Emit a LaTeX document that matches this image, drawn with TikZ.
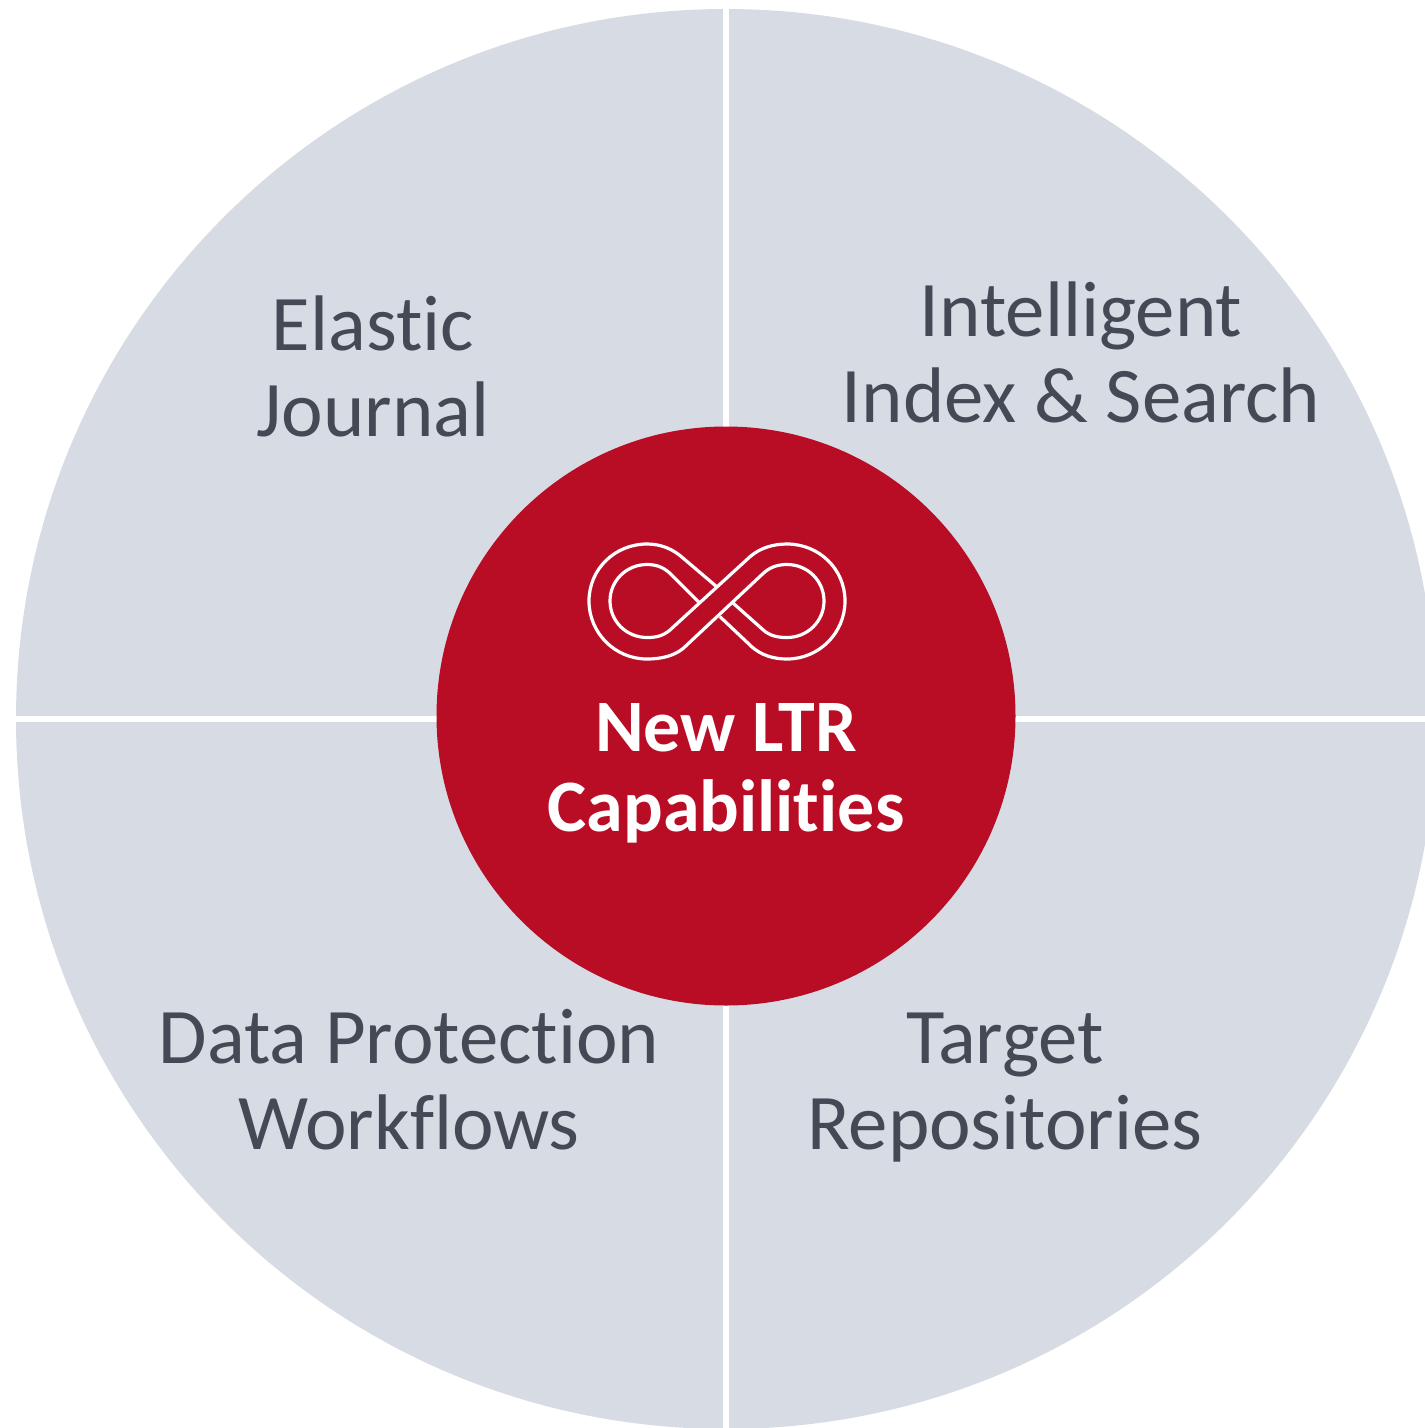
\documentclass[tikz,border=0pt]{standalone}
\usepackage{fontspec}
\setmainfont{Carlito}[Ligatures=NoCommon]
\definecolor{wedge}{HTML}{D7DBE4}
\definecolor{hub}{HTML}{B90C25}
\definecolor{ink}{HTML}{444A55}
\tikzset{
  quarter/.style={text=ink,font=\fontsize{78.8pt}{86pt}\selectfont,align=center},
  divider/.style={white,line width=5.5pt},
  infinity/.style={white,line width=3.2pt,line join=round}
}
\begin{document}
\begin{tikzpicture}[x=1pt,y=-1pt]
  \useasboundingbox (0,0) rectangle (1425,1428);
  \clip (0,0) rectangle (1425,1428);

  \fill[wedge] (726,719) circle (710);
  \coordinate (top) at (726,0);
  \coordinate (bottom) at (726,1428);
  \coordinate (left) at (10,719);
  \coordinate (right) at (1425,719);
  \draw[divider] (top) -- (bottom);
  \draw[divider] (left) -- (right);

  \node[circle,fill=hub,minimum size=579pt,inner sep=0pt] (core) at (726,716) {};

  % band running up to the right stays on top
  \draw[infinity] (698.3,601.7) -- (670,573.3) .. controls (663,567) and (656,564.5) .. (647,564.5)
    .. controls (626.6,564.5) and (610,580.6) .. (610,601) .. controls (610,621.4) and (626.6,637.5) .. (647,637.5)
    .. controls (656,637.5) and (663,636) .. (670,630) -- (750,556.7)
    .. controls (760,548) and (773,544) .. (787,544) .. controls (819,544) and (845,569) .. (845,601)
    .. controls (845,633) and (819,659) .. (787,659) .. controls (773,659) and (761,655) .. (751.7,646.7)
    -- (720,616.7);
  \draw[infinity] (716.7,586.7) -- (683.3,558.3) .. controls (673,549) and (661,544) .. (647,544)
    .. controls (615,544) and (589,569) .. (589,601) .. controls (589,633) and (615,659) .. (647,659)
    .. controls (661,659) and (674,656) .. (683.3,648.3) -- (763.3,573.3)
    .. controls (770,567) and (778,564.5) .. (787,564.5) .. controls (807.4,564.5) and (824,580.6) .. (824,601)
    .. controls (824,621.4) and (807.4,637.5) .. (787,637.5) .. controls (778,637.5) and (770,636) .. (763.3,630)
    -- (733.3,603.3);

  \node[text=white,font=\fontsize{74pt}{80pt}\selectfont\bfseries,align=center] (title) at (726,773) {New LTR\\Capabilities};
  \node[quarter] (journal) at (373,366) {Elastic\\Journal};
  \node[quarter] (search) at (1081,352) {Intelligent\\Index \& Search};
  \node[quarter] (workflows) at (409,1080) {Data Protection\\Workflows};
  \node[quarter] (repos) at (1005,1088) {Target\\Repositories};
\end{tikzpicture}
\end{document}
